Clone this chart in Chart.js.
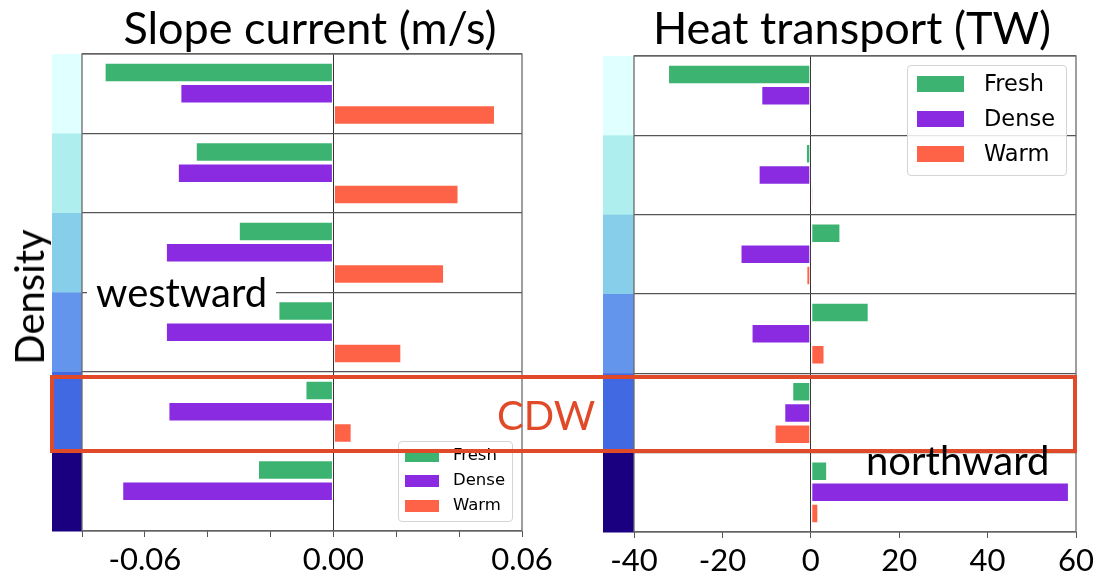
<!DOCTYPE html>
<html>
<head>
<meta charset="utf-8">
<script src="https://cdn.jsdelivr.net/npm/chart.js@4.4.0/dist/chart.umd.min.js"></script>
<style>
  body { margin: 0; background: #fff; }
  #page { position: relative; width: 1094px; height: 578px; overflow: hidden; font-family: Lato, sans-serif; }
  .abs { position: absolute; }
  .txt { position: absolute; line-height: 1; white-space: nowrap; color: #000; }
  .legend { position: absolute; background: rgba(255,255,255,0.85); border: 1px solid #d4d4d4; border-radius: 4px; box-sizing: border-box; font-family: "DejaVu Sans", sans-serif; }
  .legend .sw { position: absolute; }
  .legend .lb { position: absolute; line-height: 1; white-space: nowrap; color: #000; }
</style>
</head>
<body>
<div id="page">
  <canvas id="rightChart" class="abs" width="547" height="578" style="left:547px;top:0"></canvas>
  <canvas id="leftChart" class="abs" width="600" height="578" style="left:0;top:0"></canvas>

  <div class="txt" style="left:0;width:620px;text-align:center;top:5px;font-size:45px;">Slope current (m/s)</div>
  <div class="txt" style="left:552px;width:600px;text-align:center;top:5px;font-size:45px;">Heat transport (TW)</div>
  <div class="txt" style="left:29px;top:297px;font-size:40px;transform:translate(-50%,-50%) rotate(-90deg);">Density</div>
  <div class="txt" style="left:87px;top:270px;font-size:40px;background:#fff;padding:2px 9px 6px 9px;">westward</div>

  <div id="legLeft" class="legend" style="left:398px;top:441px;width:115px;height:81px;"></div>
  <div id="legRight" class="legend" style="left:907px;top:65px;width:160px;height:111px;"></div>

  <div class="abs" style="left:50px;top:374.5px;width:1027px;height:78px;border:4px solid #e04a28;box-sizing:border-box;"></div>
  <div class="txt" style="left:497px;top:395px;font-size:40px;color:#e04a28;">CDW</div>
  <div class="txt" style="left:866px;top:440px;font-size:40px;">northward</div>
</div>
<script>
// density bands, top (lightest) to bottom (densest)
const bands = ['1', '2', '3', '4', '5', '6'];
const bandColors = ['#e0ffff', '#afeeee', '#87ceeb', '#6495ed', '#4169e1', '#1a0080'];

const seriesNames = ['Fresh', 'Dense', 'Warm'];
const seriesColors = ['#3cb371', '#8a2be2', '#ff6347'];

// Slope current (m/s)
const slopeFresh = [-0.0728, -0.0438, -0.0301, -0.0175, -0.0089, -0.0240];
const slopeDense = [-0.0487, -0.0495, -0.0533, -0.0533, -0.0525, -0.0672];
const slopeWarm  = [0.0514, 0.0398, 0.0352, 0.0216, 0.0058, -0.0002];
const slopeTickLabels = ['-0.06', '0.00', '0.06'];

// Heat transport (TW)
const heatFresh = [-32.3, -1.1, 6.7, 13.1, -4.2, 3.7];
const heatDense = [-11.2, -11.8, -15.9, -13.4, -6.0, 58.4];
const heatWarm  = [0.4, 0.6, -1.0, 3.1, -8.2, 1.7];
const heatTickLabels = ['-40', '-20', '0', '20', '40', '60'];

// colour strip left of the plot + box frame
const stripPlugin = {
  id: 'strip',
  beforeDraw(chart, args, opts) {
    const { ctx, chartArea, scales } = chart;
    const h = (chartArea.bottom - chartArea.top) / bands.length;
    ctx.save();
    bands.forEach((b, i) => {
      const c = scales.y.getPixelForValue(i);
      ctx.fillStyle = bandColors[i];
      ctx.fillRect(chartArea.left - opts.width, c - h / 2, opts.width, h + 0.5);
    });
    ctx.restore();
  },
  afterDraw(chart) {
    const { ctx, chartArea } = chart;
    ctx.save();
    ctx.strokeStyle = '#6a6a6a';
    ctx.lineWidth = 1.3;
    ctx.strokeRect(chartArea.left, chartArea.top, chartArea.right - chartArea.left, chartArea.bottom - chartArea.top);
    ctx.restore();
  }
};

function makeChart(id, data, cfg) {
  const datasets = data.map((d, i) => ({
    label: seriesNames[i],
    data: d,
    backgroundColor: seriesColors[i],
    borderColor: 'rgba(255,255,255,0.55)',
    borderWidth: 1,
    borderSkipped: false,
    categoryPercentage: 0.8,
    barPercentage: 0.92
  }));

  return new Chart(document.getElementById(id), {
    type: 'bar',
    data: { labels: bands, datasets },
    options: {
      indexAxis: 'y',
      responsive: false,
      animation: false,
      layout: { padding: cfg.padding },
      plugins: {
        legend: { display: false },
        tooltip: { enabled: false },
        strip: { width: cfg.stripWidth }
      },
      scales: {
        x: {
          min: cfg.min,
          max: cfg.max,
          afterFit: (s) => { s.height = cfg.axisHeight; s.paddingLeft = 0; s.paddingRight = 0; },
          border: { display: false },
          grid: {
            color: (c) => (c.tick && Math.abs(c.tick.value) < 1e-9 ? '#333' : 'rgba(0,0,0,0)'),
            tickColor: '#555',
            tickLength: 6,
            lineWidth: 1
          },
          ticks: {
            stepSize: cfg.step,
            autoSkip: false,
            maxRotation: 0,
            padding: cfg.tickPad,
            color: '#000',
            font: { family: 'Lato', size: 31 },
            callback: (v) => {
              const s = cfg.fmt(v);
              return cfg.labels.includes(s) ? s : '';
            }
          }
        },
        y: {
          afterFit: (s) => { s.width = 0; },
          border: { display: false },
          grid: { offset: true, color: '#555', lineWidth: 1.2, drawTicks: false },
          ticks: { display: false }
        }
      }
    },
    plugins: [stripPlugin]
  });
}

makeChart('leftChart', [slopeFresh, slopeDense, slopeWarm], {
  min: -0.08, max: 0.06, step: 0.02,
  labels: slopeTickLabels,
  fmt: (v) => (Math.abs(v) < 1e-9 ? 0 : v).toFixed(2),
  padding: { left: 82, right: 78, top: 54, bottom: 0 },
  axisHeight: 47, stripWidth: 30, tickPad: 4
});

makeChart('rightChart', [heatFresh, heatDense, heatWarm], {
  min: -40, max: 60, step: 20,
  labels: heatTickLabels,
  fmt: (v) => String(Math.round(v)),
  padding: { left: 87, right: 18, top: 56, bottom: 0 },
  axisHeight: 46, stripWidth: 31, tickPad: 4
});

// legends
function makeLegend(id, o) {
  const box = document.getElementById(id);
  seriesNames.forEach((name, i) => {
    const c = o.rowTop + i * o.rowGap;
    const sw = document.createElement('div');
    sw.className = 'sw';
    sw.style.cssText = `left:${o.swLeft}px;top:${c - o.swH / 2}px;width:${o.swW}px;height:${o.swH}px;background:${seriesColors[i]};`;
    const lb = document.createElement('div');
    lb.className = 'lb';
    lb.textContent = name;
    lb.style.cssText = `left:${o.txtLeft}px;top:${c - o.font * 0.55}px;font-size:${o.font}px;`;
    box.appendChild(sw);
    box.appendChild(lb);
  });
}
makeLegend('legLeft', { rowTop: 14, rowGap: 25, swLeft: 6, swW: 34, swH: 12, txtLeft: 54, font: 16.5 });
makeLegend('legRight', { rowTop: 18, rowGap: 35, swLeft: 9, swW: 47, swH: 16, txtLeft: 76, font: 22.5 });
</script>
</body>
</html>
